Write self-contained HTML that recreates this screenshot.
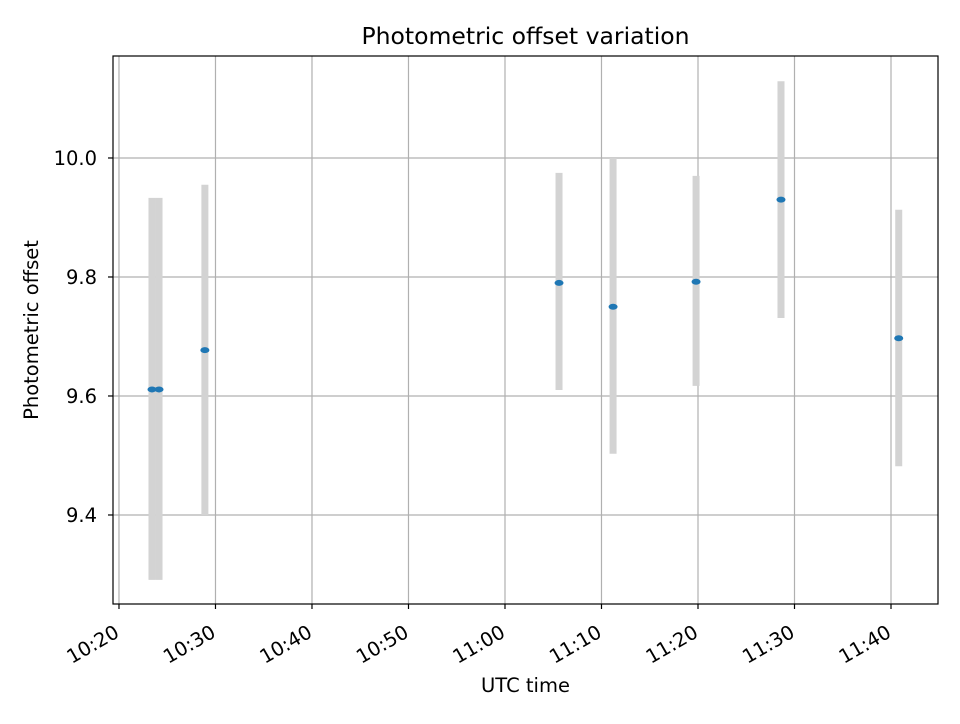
<!DOCTYPE html>
<html><head><meta charset="utf-8"><style>
body{margin:0;background:#fff;font-family:"DejaVu Sans","Liberation Sans",sans-serif;}
</style></head><body>
<svg id="chart" width="960" height="720" xmlns="http://www.w3.org/2000/svg" font-family="DejaVu Sans, Liberation Sans, sans-serif"></svg>
<script>
// minutes after 10:20 UTC
const times=[3.42,4.15,8.9,45.6,51.2,59.8,68.6,80.8];
const offsets=[9.611,9.611,9.677,9.790,9.750,9.792,9.930,9.697];
const errLow=[9.291,9.291,9.400,9.610,9.503,9.617,9.731,9.482];
const errHigh=[9.933,9.933,9.955,9.975,10.000,9.970,10.129,9.913];
const yTicks=[9.4,9.6,9.8,10.0];
const xTicks=[0,10,20,30,40,50,60,70,80];
const xTickLabels=["10:20","10:30","10:40","10:50","11:00","11:10","11:20","11:30","11:40"];

const L=113,R=938,T=56,B=604;
const xMin=-0.62,xMax=84.87,yMin=9.2504,yMax=10.1714;
const X=v=>L+(v-xMin)/(xMax-xMin)*(R-L);
const Y=v=>B-(v-yMin)/(yMax-yMin)*(B-T);
const svg=document.getElementById('chart');
const NS="http://www.w3.org/2000/svg";
function mk(tag,attrs,parent){const e=document.createElementNS(NS,tag);for(const k in attrs)e.setAttribute(k,attrs[k]);(parent||svg).appendChild(e);return e;}

// grid
yTicks.forEach(v=>{const g=mk('line',{x1:L,x2:R,y1:Y(v),y2:Y(v),stroke:'#b0b0b0','stroke-width':1.2});

});
xTicks.forEach(v=>{const g=mk('line',{x1:X(v),x2:X(v),y1:T,y2:B,stroke:'#b0b0b0','stroke-width':1.2});

});

// error bars
times.forEach((t,i)=>{const e=mk('line',{x1:X(t),x2:X(t),y1:Y(errHigh[i]),y2:Y(errLow[i]),stroke:'lightgray','stroke-width':7});

});
// points
times.forEach((t,i)=>{const p=mk('ellipse',{cx:X(t),cy:Y(offsets[i]),rx:4.5,ry:3,fill:'#1f77b4'});

});

// frame
const f=mk('rect',{x:L,y:T,width:R-L,height:B-T,fill:'none',stroke:'#000','stroke-width':1.2});



// y ticks
yTicks.forEach(v=>{mk('line',{x1:L-5,x2:L,y1:Y(v),y2:Y(v),stroke:'#000','stroke-width':1.2});
const t=mk('text',{x:L-16,y:Y(v)+7,'text-anchor':'end','font-size':19.5,fill:'#000'});t.textContent=v.toFixed(1);

});
// x ticks
xTicks.forEach((v,i)=>{mk('line',{x1:X(v),x2:X(v),y1:B,y2:B+5,stroke:'#000','stroke-width':1.2});
const ax=X(v)+1.5, ay=B+32;
const t=mk('text',{x:ax,y:ay,'text-anchor':'end','font-size':19.5,fill:'#000',transform:`rotate(-30 ${ax} ${ay})`});t.textContent=xTickLabels[i];

});

const title=mk('text',{x:(L+R)/2,y:44,'text-anchor':'middle','font-size':23.5,fill:'#000'});title.textContent='Photometric offset variation';


const xl=mk('text',{x:(L+R)/2,y:692,'text-anchor':'middle','font-size':19.5,fill:'#000'});xl.textContent='UTC time';


const yl=mk('text',{x:38,y:(T+B)/2,'text-anchor':'middle','font-size':19.5,fill:'#000',transform:`rotate(-90 38 ${(T+B)/2})`});yl.textContent='Photometric offset';


</script>
</body></html>
